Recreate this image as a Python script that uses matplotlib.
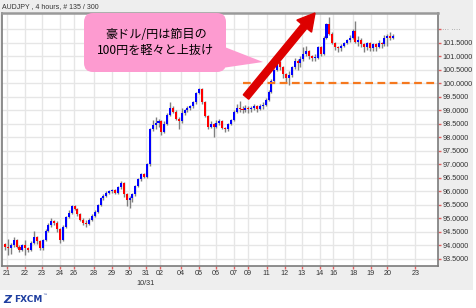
import matplotlib
matplotlib.use("Agg")
import matplotlib.pyplot as plt
from matplotlib.patches import FancyBboxPatch, Polygon, FancyArrow, Rectangle

# AUD/JPY 4-hour candles (135 bars)
first_open = 94.05
closes = [
    93.95, 93.9, 94.0, 94.2, 93.95, 93.85, 94.0, 93.9, 93.85, 94.1,
    94.3, 94.15, 93.9, 94.2, 94.55, 94.75, 94.9, 94.85, 94.6, 94.2,
    94.7, 95.05, 95.2, 95.45, 95.35, 95.15, 94.95, 94.85, 94.8, 94.95,
    95.1, 95.25, 95.5, 95.75, 95.85, 95.95, 96.0, 96.05, 95.95, 96.15,
    96.3, 95.9, 95.7, 95.75, 95.9, 96.2, 96.45, 96.65, 96.55, 97.0,
    98.3, 98.45, 98.55, 98.6, 98.2, 98.5, 98.85, 99.1, 98.95, 98.7,
    98.6, 98.9, 99.0, 99.1, 99.15, 99.3, 99.65, 99.8, 99.3, 98.8,
    98.4, 98.5, 98.4, 98.55, 98.6, 98.35, 98.3, 98.5, 98.65, 98.95,
    99.1, 99.05, 99.0, 99.1, 99.05, 99.1, 99.15, 99.05, 99.15, 99.2,
    99.4, 99.7, 100.1, 100.5, 100.8, 100.6, 100.35, 100.2, 100.3, 100.6,
    100.85, 100.75, 100.9, 101.1, 101.2, 101.0, 100.95, 100.95, 101.35, 101.1,
    101.7, 102.2, 101.85, 101.5, 101.35, 101.3, 101.4, 101.5, 101.6, 101.7,
    101.95, 101.55, 101.6, 101.45, 101.35, 101.5, 101.3, 101.45, 101.35, 101.5,
    101.45, 101.7, 101.75, 101.7, 101.75,
]
highs = [
    94.1, 94.25, 94.1, 94.3, 94.25, 94.0, 94.05, 94.2, 93.95, 94.15,
    94.55, 94.35, 94.2, 94.25, 94.6, 94.85, 95.0, 94.95, 94.9, 94.65,
    94.75, 95.1, 95.3, 95.5, 95.5, 95.4, 95.2, 95.0, 94.95, 95.0,
    95.15, 95.3, 95.55, 95.8, 95.9, 96.0, 96.05, 96.1, 96.1, 96.2,
    96.4, 96.35, 95.95, 95.85, 95.95, 96.25, 96.5, 96.7, 96.7, 97.05,
    98.35, 98.65, 98.75, 98.7, 98.65, 98.6, 98.9, 99.3, 99.15, 99.0,
    98.75, 99.1, 99.05, 99.15, 99.2, 99.35, 99.7, 99.85, 99.85, 99.35,
    98.85, 98.6, 98.55, 98.65, 98.7, 98.65, 98.4, 98.55, 98.7, 99.0,
    99.25, 99.35, 99.15, 99.2, 99.15, 99.15, 99.25, 99.2, 99.25, 99.3,
    99.45, 99.75, 100.15, 100.55, 101.0, 100.85, 100.65, 100.4, 100.45, 100.65,
    100.95, 100.9, 101.0, 101.35, 101.4, 101.25, 101.05, 101.1, 101.4, 101.4,
    101.75, 102.25, 102.45, 101.9, 101.55, 101.4, 101.45, 101.55, 101.65, 101.8,
    102.0, 102.3, 101.75, 101.7, 101.5, 101.55, 101.55, 101.5, 101.5, 101.6,
    101.55, 101.8, 101.85, 101.9, 101.85,
]
lows = [
    93.85, 93.65, 93.7, 93.95, 93.9, 93.75, 93.8, 93.65, 93.75, 93.8,
    94.05, 94.05, 93.85, 93.85, 94.15, 94.5, 94.7, 94.75, 94.5, 94.1,
    94.15, 94.65, 95.0, 95.15, 95.3, 95.1, 94.9, 94.75, 94.7, 94.75,
    94.9, 95.05, 95.2, 95.45, 95.7, 95.8, 95.9, 95.95, 95.9, 95.9,
    96.1, 95.8, 95.45, 95.4, 95.6, 95.85, 96.15, 96.4, 96.5, 96.5,
    96.95, 98.25, 98.3, 98.4, 98.1, 98.15, 98.45, 98.8, 98.9, 98.65,
    98.3, 98.55, 98.85, 98.95, 99.0, 99.1, 99.25, 99.6, 99.25, 98.75,
    98.3, 98.35, 98.0, 98.35, 98.45, 98.3, 98.2, 98.25, 98.45, 98.6,
    98.9, 98.95, 98.9, 98.95, 98.9, 98.95, 99.0, 98.95, 99.0, 99.05,
    99.15, 99.35, 99.65, 100.05, 100.45, 100.5, 100.2, 100.0, 99.95, 100.25,
    100.55, 100.5, 100.6, 100.85, 101.0, 100.9, 100.85, 100.85, 100.9, 101.0,
    101.05, 101.65, 101.8, 101.45, 101.25, 101.15, 101.2, 101.35, 101.45, 101.55,
    101.65, 101.5, 101.4, 101.35, 101.15, 101.25, 101.2, 101.2, 101.2, 101.3,
    101.3, 101.4, 101.4, 101.6, 101.65,
]
opens = [first_open] + closes[:-1]

tick_pos = [0.7, 6.9, 12.8, 19.0, 23.8, 30.7, 36.9, 42.8, 48.6, 53.4, 60.7, 66.9,
            72.8, 79.0, 83.8, 90.3, 96.6, 102.4, 108.6, 113.4, 120.3, 126.2, 132.0, 141.7]
tick_labels = ["21", "22", "23", "24", "26", "28", "29", "30", "31", "02", "04", "05",
               "06", "07", "09", "11", "12", "13", "14", "16", "18", "19", "20", "23"]
price_ticks = [93.5, 94.0, 94.5, 95.0, 95.5, 96.0, 96.5, 97.0, 97.5, 98.0, 98.5,
               99.0, 99.5, 100.0, 100.5, 101.0, 101.5, 102.0]
level = 100.0
level_start = 82.2

W, H = 476, 308
fig = plt.figure(figsize=(W / 100, H / 100), dpi=100)
fig.patch.set_facecolor("white")
fig.patches.append(Rectangle((0, 1 - 290 / H), 473 / W, 290 / H, transform=fig.transFigure,
                             facecolor="#eeeeee", edgecolor="none", zorder=-10))

ax = fig.add_axes([2 / W, 1 - 266 / H, 436 / W, 253 / H])
ax.set_facecolor("white")

x = list(range(len(closes)))
ax.vlines(x, lows, highs, color="#808080", lw=1, zorder=2)
bottoms = [min(o, c) for o, c in zip(opens, closes)]
heights = [max(abs(c - o), 0.03) for o, c in zip(opens, closes)]
colors = ["#0000ff" if c >= o else "#ff0000" for o, c in zip(opens, closes)]
ax.bar(x, heights, bottom=bottoms, width=0.7, color=colors, linewidth=0, zorder=3)

ax.hlines(level, level_start, 160, colors="#f5781e", lw=1.6, linestyles=(0, (3.5, 2)), zorder=4)

ax.set_xlim(-1.04, 149.5)
ax.set_ylim(93.24, 102.61)
ax.set_xticks(tick_pos)
ax.set_xticklabels(tick_labels)
ax.set_yticks(price_ticks)
ax.set_yticklabels(["%.4f" % p for p in price_ticks[:-1]] + ["\u00b7\u00b7\u00b7 \u00b7\u00b7\u00b7\u00b7"])
ax.yaxis.tick_right()
ax.tick_params(axis="both", colors="#e06060", length=2, width=1, labelsize=5.2,
               labelcolor="#333333", pad=1)
for lab in ax.get_xticklabels() + ax.get_yticklabels():
    lab.set_family("Liberation Sans")
ax.get_yticklabels()[-1].set_color("#888888")
ax.grid(True, color="#e6e6e6", lw=1, zorder=0)
ax.set_axisbelow(True)
for side in ["left", "right", "bottom"]:
    ax.spines[side].set_color("#7a7a7a")
    ax.spines[side].set_linewidth(1.2)
ax.spines["top"].set_color("#999999")
ax.spines["top"].set_linewidth(1.8)

ax.text(48.6, -0.068, "10/31", transform=ax.get_xaxis_transform(), ha="center", va="center",
        fontsize=5.2, color="#333333", family="Liberation Sans")

# overlay in pixel units for the annotation
ov = fig.add_axes([0, 0, 1, 1], facecolor="none")
ov.set_xlim(0, W)
ov.set_ylim(H, 0)
ov.axis("off")

ov.text(2, 6.5, "AUDJPY , 4 hours, # 135 / 300", fontsize=5, color="#333333",
        family="Liberation Sans", va="center", ha="left")

pink = "#fd9bd0"
ov.add_patch(Polygon([(222, 46), (263, 62), (222, 68)], closed=True, facecolor=pink,
                     edgecolor="none", zorder=5))
ov.add_patch(FancyBboxPatch((84, 13), 142, 59, boxstyle="round,pad=0,rounding_size=9",
                            facecolor=pink, edgecolor="none", zorder=5))
ov.text(156, 35, "豪ドル/円は節目の", fontsize=8.7, ha="center", va="center",
        family=["Noto Sans CJK JP", "DejaVu Sans"], zorder=6)
ov.text(156, 50, "100円を軽々と上抜け", fontsize=8.7, ha="center", va="center",
        family=["Noto Sans CJK JP", "DejaVu Sans"], zorder=6)

ov.add_patch(FancyArrow(246, 97, 69, -84, width=7, head_width=19, head_length=17,
                        length_includes_head=True, color="#dd0000", zorder=6))

ov.text(3, 300, "Z", fontsize=8, fontweight="bold", fontstyle="italic", color="#1f3fa0",
        va="center", ha="left", family="DejaVu Sans")
ov.text(14, 300, "FXCM", fontsize=6.5, fontweight="bold", color="#1f3fa0",
        va="center", ha="left", family="DejaVu Sans")
ov.text(42, 295.5, "\u2122", fontsize=3.5, color="#1f3fa0", va="center", ha="left")

fig.savefig("out.png", dpi=100)
